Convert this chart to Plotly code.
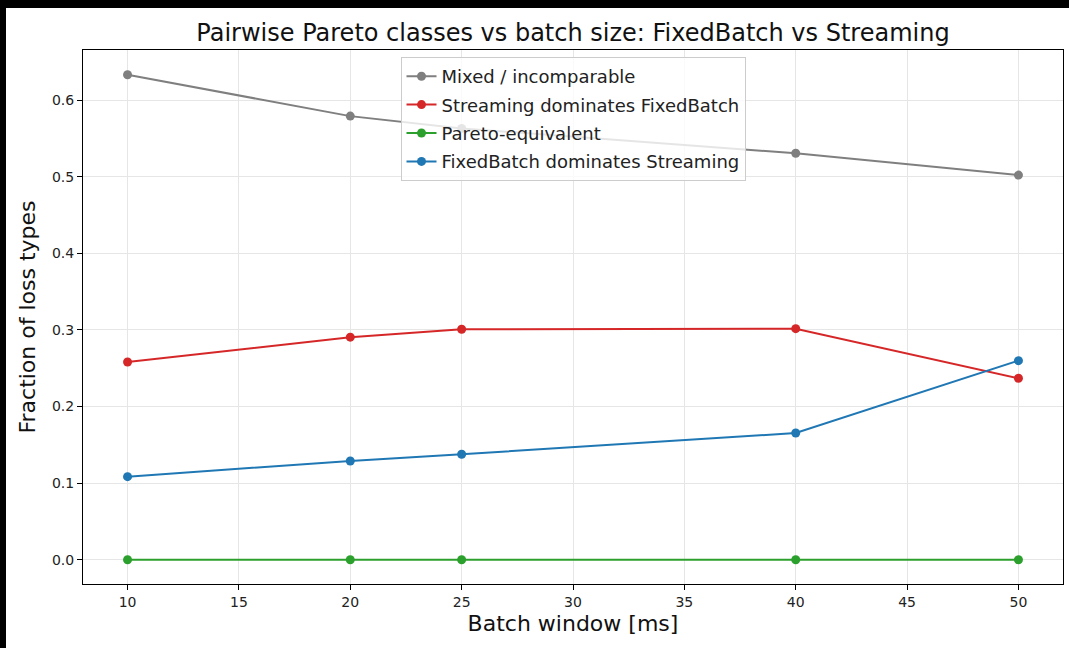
import plotly.graph_objects as go

batch_ms = [10, 20, 25, 40, 50]
mixed = [0.633, 0.579, 0.563, 0.5305, 0.502]
streaming_dom = [0.258, 0.2905, 0.3008, 0.3016, 0.2368]
equivalent = [0.0, 0.0, 0.0, 0.0, 0.0]
fixed_dom = [0.1084, 0.1289, 0.1376, 0.1654, 0.2598]

series = [
    ("Mixed / incomparable", mixed, "#7f7f7f"),
    ("Streaming dominates FixedBatch", streaming_dom, "#d62728"),
    ("Pareto-equivalent", equivalent, "#2ca02c"),
    ("FixedBatch dominates Streaming", fixed_dom, "#1f77b4"),
]

W, H = 1069, 648
L, R, T, B = 83, 6, 50, 64
pw, ph = W - L - R, H - T - B

fig = go.Figure()
for i, (name, vals, col) in enumerate(series):
    fig.add_trace(go.Scatter(
        x=batch_ms, y=vals, name=name, mode="lines+markers",
        line=dict(color=col, width=2), marker=dict(color=col, size=9),
        legendgroup=f"g{i}",
    ))

font_family = "DejaVu Sans"
fig.update_layout(
    width=W, height=H,
    margin=dict(l=L, r=R, t=T, b=B),
    paper_bgcolor="white", plot_bgcolor="white",
    font=dict(family=font_family, color="#222222"),
    title=dict(text="Pairwise Pareto classes vs batch size: FixedBatch vs Streaming",
               x=(L + pw / 2) / W, xanchor="center", y=1 - 33 / H, yanchor="middle",
               yref="container", font=dict(size=24, color="#111111")),
    legend=dict(x=0.5, xanchor="center", y=(584 - 57) / ph, yanchor="top",
                bgcolor="rgba(255,255,255,0.8)", bordercolor="#cccccc", borderwidth=1,
                font=dict(size=18, color="#222222"), tracegroupgap=2),
    showlegend=True,
)
fig.update_xaxes(
    range=[8, 52], tickmode="array", tickvals=[10, 15, 20, 25, 30, 35, 40, 45, 50],
    showgrid=True, gridcolor="#e6e6e6", gridwidth=1,
    showline=True, linecolor="black", linewidth=1, mirror=True,
    ticks="outside", ticklen=5, tickcolor="black", zeroline=False,
    tickfont=dict(size=14, color="#222222"),
    title=dict(text="Batch window [ms]", font=dict(size=22, color="#111111"), standoff=6),
)
fig.update_yaxes(
    range=[-0.0317, 0.6653], tickmode="array", tickvals=[0, 0.1, 0.2, 0.3, 0.4, 0.5, 0.6],
    tickformat=".1f",
    showgrid=True, gridcolor="#e6e6e6", gridwidth=1,
    showline=True, linecolor="black", linewidth=1, mirror=True,
    ticks="outside", ticklen=5, tickcolor="black", zeroline=False,
    tickfont=dict(size=14, color="#222222"),
    title=dict(text="Fraction of loss types", font=dict(size=22, color="#111111"), standoff=10),
)

# black border strips on top and left of the image
fig.add_shape(type="rect", xref="paper", yref="paper", layer="below",
              x0=-L / pw - 0.01, x1=1 + R / pw + 0.01, y0=(584 - 8) / ph, y1=(584 + 2) / ph,
              fillcolor="black", line=dict(width=0))
fig.add_shape(type="rect", xref="paper", yref="paper", layer="below",
              x0=-L / pw - 0.01, x1=(6 - L) / pw, y0=-B / ph - 0.01, y1=1 + T / ph + 0.01,
              fillcolor="black", line=dict(width=0))

fig.write_html("out.html")
